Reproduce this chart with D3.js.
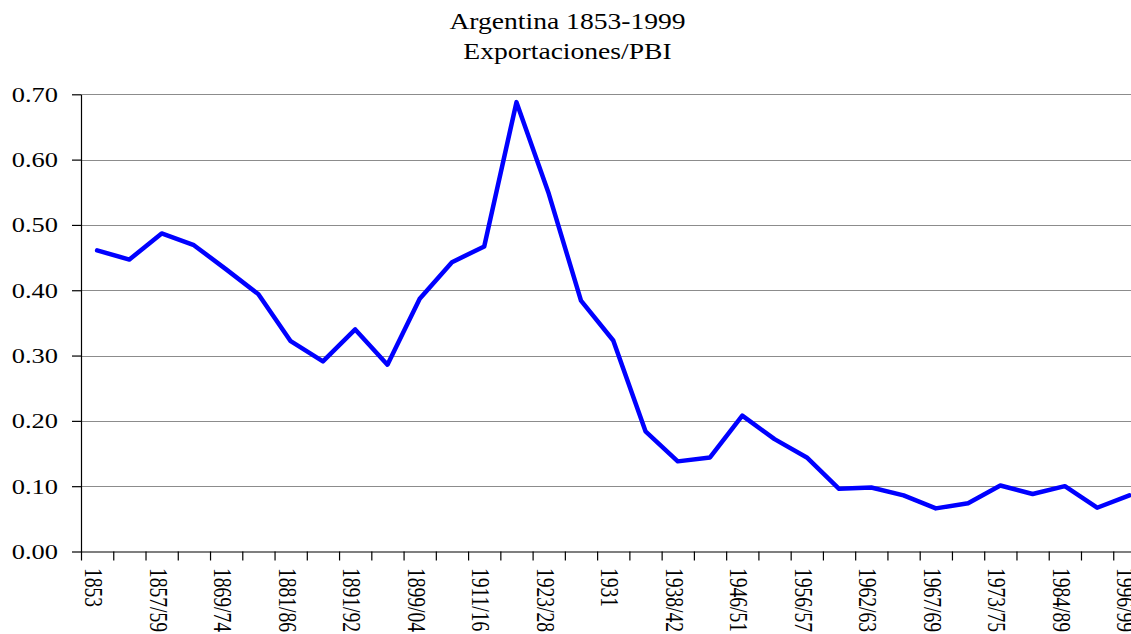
<!DOCTYPE html>
<html>
<head>
<meta charset="utf-8">
<script src="https://cdn.jsdelivr.net/npm/d3@7"></script>
<style>
html,body{margin:0;padding:0;background:#fff;overflow:hidden;}
svg{display:block;}
</style>
</head>
<body>
<svg id="chart" width="1131" height="634"></svg>
<script>
// ---- data ----
const titleLines = ["Argentina 1853-1999", "Exportaciones/PBI"];
// category labels (only every other period is labelled on the original axis)
const categoryLabels = [
  "1853","", "1857/59","", "1869/74","", "1881/86","", "1891/92","",
  "1899/04","", "1911/16","", "1923/28","", "1931","", "1938/42","",
  "1946/51","", "1956/57","", "1962/63","", "1967/69","", "1973/75","",
  "1984/89","", "1996/99"
];
const exportsToGDP = [
  0.461, 0.447, 0.487, 0.469, 0.432, 0.394, 0.322, 0.291, 0.340, 0.286,
  0.387, 0.443, 0.467, 0.688, 0.548, 0.384, 0.323, 0.184, 0.138, 0.144,
  0.208, 0.172, 0.144, 0.096, 0.098, 0.086, 0.066, 0.074, 0.101, 0.088,
  0.100, 0.067, 0.086
];
const yTicks = [0, 0.1, 0.2, 0.3, 0.4, 0.5, 0.6, 0.7];

// ---- layout ----
const FONT = "'Liberation Serif', Tinos, 'Times New Roman', Times, serif";
const svg = d3.select("#chart");
const mLeft = 81, mRight = 1145.5, mTop = 94.3, mBottom = 551.5;
const sx = 1.2; // horizontal stretch of the original rendering

const idx = d3.range(exportsToGDP.length);
const x = d3.scaleBand().domain(idx).range([mLeft, mRight]).padding(0);
const xb = d3.scaleLinear().domain([0, idx.length]).range([mLeft, mRight]);
const y = d3.scaleLinear().domain([0, 0.7]).range([mBottom, mTop]);

// title
titleLines.forEach((t, i) => {
  svg.append("text")
    .attr("transform", `translate(567.5,${29 + i * 30}) scale(${sx},1)`)
    .attr("text-anchor", "middle")
    .attr("font-family", FONT)
    .attr("font-size", 23)
    .attr("fill", "#000")
    .text(t);
});

// gridlines
svg.append("g").selectAll("line")
  .data(yTicks.filter(d => d > 0))
  .join("line")
  .attr("x1", mLeft).attr("x2", mRight)
  .attr("y1", d => Math.round(y(d)) + 0.5).attr("y2", d => Math.round(y(d)) + 0.5)
  .attr("stroke", "#8c8c8c").attr("stroke-width", 1.2);

// y axis
const yAxis = svg.append("g")
  .attr("transform", `translate(${mLeft},0)`)
  .call(d3.axisLeft(y).tickValues(yTicks).tickSize(9).tickFormat("").tickSizeOuter(0));
yAxis.selectAll("path,line").attr("stroke", "#000").attr("stroke-width", 1.2);

svg.append("g").selectAll("text")
  .data(yTicks)
  .join("text")
  .attr("transform", d => `translate(58,${y(d)}) scale(${sx},1)`)
  .attr("text-anchor", "end")
  .attr("dy", "0.34em")
  .attr("font-family", FONT)
  .attr("font-size", 22)
  .attr("fill", "#000")
  .text(d3.format(".2f"));

// x axis (ticks at category boundaries)
const xAxis = svg.append("g")
  .attr("transform", `translate(0,${mBottom})`)
  .call(d3.axisBottom(xb).tickValues(d3.range(idx.length + 1)).tickSize(9).tickFormat("").tickSizeOuter(0));
xAxis.selectAll("path,line").attr("stroke", "#000").attr("stroke-width", 1.2);

svg.append("g").selectAll("text")
  .data(idx.filter(i => categoryLabels[i] !== ""))
  .join("text")
  .attr("transform", i => `translate(${x(i) + x.bandwidth() / 2},568) scale(1.25,1) rotate(90)`)
  .attr("text-anchor", "start")
  .attr("dy", 9.5)
  .attr("font-family", FONT)
  .attr("font-size", 19.5)
  .attr("fill", "#000")
  .text(i => categoryLabels[i]);

// line
const line = d3.line()
  .x((d, i) => x(i) + x.bandwidth() / 2)
  .y(d => y(d));
svg.append("path")
  .datum(exportsToGDP)
  .attr("d", line)
  .attr("fill", "none")
  .attr("stroke", "#0000ff")
  .attr("stroke-width", 4.5)
  .attr("stroke-linejoin", "round")
  .attr("stroke-linecap", "round");
</script>
</body>
</html>
